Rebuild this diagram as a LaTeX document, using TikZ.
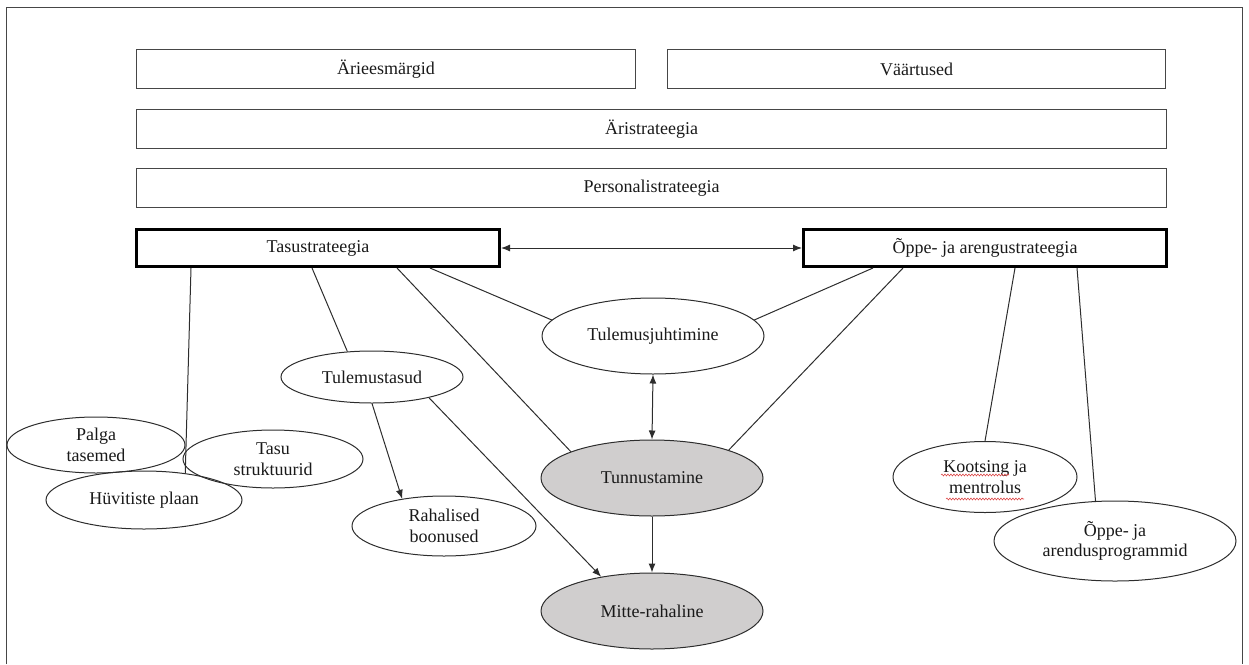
\documentclass[tikz,border=0pt]{standalone}
\usepackage{fontspec}
\setmainfont{Liberation Serif}
\usetikzlibrary{arrows.meta,calc,shapes.geometric,decorations.pathmorphing}
\definecolor{framegray}{RGB}{70,70,70}
\definecolor{linegray}{RGB}{45,45,45}
\definecolor{softgray}{RGB}{208,206,206}
\definecolor{squigred}{RGB}{220,70,70}
\begin{document}
\begin{tikzpicture}[x=1pt,y=-1pt,
  font=\fontsize{18}{20.5}\selectfont,
  plainbox/.style={draw=framegray, line width=1.2pt, minimum height=39pt, inner sep=0pt, text=black!90},
  mainbox/.style={draw=black, line width=3pt, minimum height=37pt, inner sep=0pt, text=black!90},
  oval/.style={ellipse, draw=linegray, line width=1pt, inner sep=0pt, align=center, text=black!90},
  shaded/.style={oval, fill=softgray},
  link/.style={draw=linegray, line width=1pt},
  arr/.style={link, -{Latex[length=9pt,width=7pt]}},
  biarr/.style={link, {Latex[length=9pt,width=7pt]}-{Latex[length=9pt,width=7pt]}},
  squig/.style={draw=squigred, line width=0.6pt, decorate,
    decoration={snake, amplitude=0.9pt, segment length=3pt}}]

\useasboundingbox (0,0) rectangle (1249,664);

% outer frame, open at the bottom
\draw[framegray, line width=1.5pt] (6.5,664) -- (6.5,7.5) -- (1242.5,7.5) -- (1242.5,664);

% strategy levels
\node[plainbox, minimum width=499pt] (goals)  at (386,69)   {Ärieesmärgid};
\node[plainbox, minimum width=498pt] (values) at (916.5,69) {Väärtused};
\node[plainbox, minimum width=1030pt] (biz)   at (651.5,129) {Äristrateegia};
\node[plainbox, minimum width=1030pt] (hr)    at (651.5,188) {Personalistrateegia};
\node[mainbox, minimum width=363pt] (pay) at (318,248) {Tasustrateegia};
\node[mainbox, minimum width=363pt] (dev) at (985,248) {Õppe- ja arengustrateegia};

% elements
\node[oval, minimum width=222pt, minimum height=76pt] (perf)   at (653,336) {Tulemusjuhtimine};
\node[shaded, minimum width=222pt, minimum height=76pt] (recog) at (652,478) {Tunnustamine};
\node[shaded, minimum width=222pt, minimum height=76pt] (nonmon) at (652,611) {Mitte-rahaline};
\node[oval, minimum width=182pt, minimum height=52pt] (result) at (372,377) {Tulemustasud};
\node[oval, minimum width=184pt, minimum height=60pt] (bonus)  at (444,526) {Rahalised\\boonused};
\node[oval, minimum width=178pt, minimum height=56pt] (levels) at (96,445)  {Palga\\tasemed};
\node[oval, minimum width=180pt, minimum height=58pt] (struct) at (273,459) {Tasu\\struktuurid};
\node[oval, minimum width=196pt, minimum height=58pt] (benefit) at (144,500) {Hüvitiste plaan};
\node[oval, minimum width=184pt, minimum height=71pt] (coach)  at (985,477) {Kootsing ja\\mentrolus};
\node[oval, minimum width=242pt, minimum height=80pt] (prog)   at (1115,541) {Õppe- ja\\arendusprogrammid};

% spelling marks under the coaching words
\draw[squig] ($(coach.center)+(-44,-2)$) -- ($(coach.center)+(24,-2)$);
\draw[squig] ($(coach.center)+(-39,22)$) -- ($(coach.center)+(39,22)$);

% links from the pay strategy
\draw[link] ([xshift=56pt]pay.south west)  -- (benefit.33);
\draw[link] ([xshift=177pt]pay.south west) -- (result.134);
\draw[link] ([xshift=262pt]pay.south west) -- (recog.162);
\draw[link] ([xshift=295pt]pay.south west) -- (perf.171);

% links from the learning strategy
\draw[link] ([xshift=71pt]dev.south west)  -- (perf.9);
\draw[link] ([xshift=101pt]dev.south west) -- (recog.20);
\draw[link] ([xshift=213pt]dev.south west) -- (coach.north);
\draw[link] ([xshift=275pt]dev.south west) -- (prog.116);

% arrows
\draw[biarr] (pay.east) -- (dev.west);
\draw[biarr] (perf.south) -- (recog.north);
\draw[arr] (recog.south) -- (nonmon.north);
\draw[arr] (result.south) -- (bonus.147);
\draw[arr] (result.-20) -- (nonmon.146);

\end{tikzpicture}
\end{document}
